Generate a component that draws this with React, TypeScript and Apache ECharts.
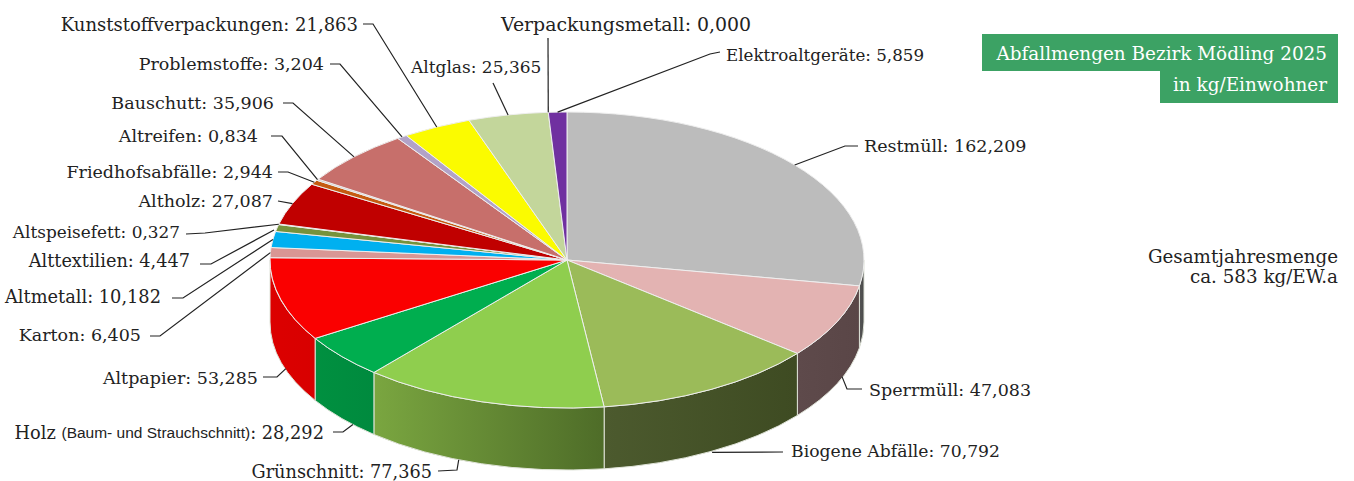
import React, { useEffect, useRef } from "react";
import * as echarts from "echarts";

const names = ["Restmüll","Sperrmüll","Biogene Abfälle","Grünschnitt","Holz","Altpapier","Karton","Altmetall","Alttextilien","Altspeisefett","Altholz","Friedhofsabfälle","Altreifen","Bauschutt","Problemstoffe","Kunststoffverpackungen","Altglas","Verpackungsmetall","Elektroaltgeräte"];
const values = [162.209,47.083,70.792,77.365,28.292,53.285,6.405,10.182,4.447,0.327,27.087,2.944,0.834,35.906,3.204,21.863,25.365,0,5.859];
const topColors = ["#bcbcbc","#e3b3b2","#9bbb59","#8fce4e","#00ae4f","#fa0000","#d99694","#00b0f0","#76923c","#a6a6a6","#c00000","#c55a11","#bfbfbf","#c76f6b","#b2a2c7","#fbfb00","#c3d69b","#4f81bd","#7030a0"];
const sideLeft = ["#555555","#5e4a4b","#4c5a2e","#7aa640","#009040","#dc0000","#c08080","#0090c8","#60782c","#909090","#a00000","#a04a0c","#a0a0a0","#a85c58","#9080a0","#d8d800","#a8b880","#3f68a0","#5a2880"];
const sideRight = ["#4a4a4a","#5a4647","#3e4b22","#4e6c28","#008a3e","#d80000","#c08080","#0090c8","#60782c","#909090","#a00000","#a04a0c","#a0a0a0","#a85c58","#9080a0","#d8d800","#a8b880","#3f68a0","#5a2880"];
const labelFont = "DejaVu Serif";
const labelSize = 17.5;
const titleSize = 18.4;
const textColor = "#222222";

const cx = 567, cy = 260, rx = 297, ry = 148, depth = 62;
const total = values.reduce((a, b) => a + b, 0);
const starts: number[] = [];
values.reduce((acc, v, i) => { starts[i] = acc; return acc + v; }, 0);
const deg = (v: number) => (v / total) * 360;
const pt = (a: number, dy = 0): [number, number] => {
  const r = (a * Math.PI) / 180;
  return [cx + rx * Math.sin(r), cy - ry * Math.cos(r) + dy];
};

// label anchor, text align, elbow points, tip offset from the slice's rim midpoint
type Lay = { x: number; y: number; align: string; via: number[][]; off?: number[]; size?: number };
const layout: Lay[] = [
  { x: 864, y: 146, align: "left", via: [[858,146],[845,146]] },
  { x: 869, y: 390, align: "left", via: [[862,389],[847,389]], off: [5,55] },
  { x: 791, y: 451, align: "left", via: [[783,452]], off: [1,63], size: 17.2 },
  { x: 432, y: 472, align: "right", via: [[438,471],[457,470]], off: [-23,58], size: 17.7 },
  { x: 324, y: 432, align: "right", via: [[333,432],[343,432]], off: [11,68], size: 17.8 },
  { x: 258, y: 378, align: "right", via: [[263,377],[277,377]], off: [5,69] },
  { x: 141, y: 335, align: "right", via: [[150,336],[160,336]] },
  { x: 161, y: 296, align: "right", via: [[172,298],[183,298]], size: 17.8 },
  { x: 190, y: 261, align: "right", via: [[200,264],[211,264]], off: [-3,2], size: 17.7 },
  { x: 180, y: 232, align: "right", via: [[186,234],[205,233]], size: 16.9 },
  { x: 273, y: 201, align: "right", via: [[278,201]] },
  { x: 273, y: 172, align: "right", via: [[278,172],[288,172]] },
  { x: 258, y: 136, align: "right", via: [[271,136],[282,136]] },
  { x: 274, y: 103, align: "right", via: [[283,103],[293,103]] },
  { x: 324, y: 64, align: "right", via: [[330,64],[340,64]] },
  { x: 358, y: 24, align: "right", via: [[363,24],[373,24]], size: 18 },
  { x: 411, y: 67, align: "left", via: [[493,83]], size: 17 },
  { x: 501, y: 24, align: "left", via: [[548,38]], size: 18.9 },
  { x: 726, y: 55, align: "left", via: [[720,52],[710,54]], size: 16.7 },
];

const richStyles = {
  small: { fontFamily: "Liberation Sans", fontSize: 15.5, fill: textColor, color: textColor },
};

const renderSides = (params: any) => {
  const i = params.dataIndex;
  const a0 = Math.max(deg(starts[i]), 90);
  const a1 = Math.min(deg(starts[i] + values[i]), 270);
  if (a1 <= a0) return { type: "group", children: [] };
  const [x0, y0] = pt(a0), [x1, y1] = pt(a1);
  const d = `M${x0} ${y0}A${rx} ${ry} 0 0 1 ${x1} ${y1}L${x1} ${y1 + depth}A${rx} ${ry} 0 0 0 ${x0} ${y0 + depth}Z`;
  return {
    type: "path",
    shape: { pathData: d },
    style: {
      fill: new echarts.graphic.LinearGradient(0, 0, 1, 0, [
        { offset: 0, color: sideLeft[i] },
        { offset: 1, color: sideRight[i] },
      ]),
      stroke: "#dfe3d8",
      lineWidth: 1,
    },
  };
};

const renderTops = (params: any) => {
  const i = params.dataIndex;
  if (values[i] <= 0) return { type: "group", children: [] };
  const a0 = deg(starts[i]), a1 = deg(starts[i] + values[i]);
  const [x0, y0] = pt(a0), [x1, y1] = pt(a1);
  const large = a1 - a0 > 180 ? 1 : 0;
  const d = `M${cx} ${cy}L${x0} ${y0}A${rx} ${ry} 0 ${large} 1 ${x1} ${y1}Z`;
  return {
    type: "path",
    shape: { pathData: d },
    style: { fill: topColors[i], stroke: "#eeeeee", lineWidth: 1 },
  };
};

const renderLabels = (params: any) => {
  const i = params.dataIndex;
  const l = layout[i];
  const mid = deg(starts[i] + values[i] / 2);
  const [tx, ty] = pt(mid);
  const off = l.off || [0, 0];
  const points = [...l.via, [tx + off[0], ty + off[1]]];
  const v = values[i].toFixed(3).replace(".", ",");
  const text = names[i] === "Holz"
    ? `Holz {small|(Baum- und Strauchschnitt)}: ${v}`
    : `${names[i]}: ${v}`;
  return {
    type: "group",
    children: [
      { type: "polyline", shape: { points }, style: { fill: "none", stroke: "#222222", lineWidth: 1.2 } },
      {
        type: "text", x: l.x, y: l.y,
        style: {
          text, rich: richStyles, fill: textColor,
          fontFamily: labelFont, fontSize: l.size || labelSize,
          align: l.align, verticalAlign: "middle",
        },
      },
    ],
  };
};

export default function App() {
  const ref = useRef<HTMLDivElement>(null);
  useEffect(() => {
    const chart = echarts.init(ref.current!, undefined, { renderer: "svg" });
    const data = values.map((v, i) => ({ name: names[i], value: [v] }));
    chart.setOption({
      animation: false,
      backgroundColor: "#ffffff",
      graphic: [
        { type: "rect", shape: { x: 982, y: 34, width: 356, height: 37 }, style: { fill: "#3ca264" } },
        { type: "rect", shape: { x: 1160, y: 71, width: 178, height: 32 }, style: { fill: "#3ca264" } },
        { type: "text", x: 1327, y: 53, style: { text: "Abfallmengen Bezirk Mödling 2025", fill: "#ffffff", fontFamily: labelFont, fontSize: titleSize, align: "right", verticalAlign: "middle" } },
        { type: "text", x: 1327, y: 84, style: { text: "in kg/Einwohner", fill: "#ffffff", fontFamily: labelFont, fontSize: titleSize, align: "right", verticalAlign: "middle" } },
        { type: "text", x: 1338, y: 256, style: { text: "Gesamtjahresmenge", fill: textColor, fontFamily: labelFont, fontSize: 18.3, align: "right", verticalAlign: "middle" } },
        { type: "text", x: 1338, y: 276, style: { text: "ca. 583 kg/EW.a", fill: textColor, fontFamily: labelFont, fontSize: 18.3, align: "right", verticalAlign: "middle" } },
      ],
      series: [
        { type: "custom", coordinateSystem: "none", z: 1, data, renderItem: renderSides, silent: true },
        { type: "custom", coordinateSystem: "none", z: 2, data, renderItem: renderTops, silent: true },
        { type: "custom", coordinateSystem: "none", z: 3, data, renderItem: renderLabels, silent: true },
      ],
    });
    return () => chart.dispose();
  }, []);
  return <div ref={ref} style={{ position: "absolute", left: 0, top: 0, width: 1354, height: 481 }} />;
}
